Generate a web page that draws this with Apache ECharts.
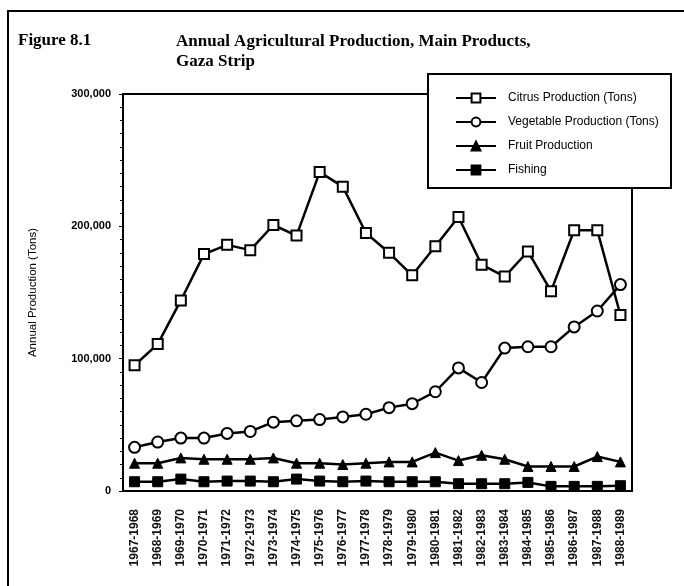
<!DOCTYPE html>
<html>
<head>
<meta charset="utf-8">
<script src="https://cdn.jsdelivr.net/npm/echarts@6/dist/echarts.min.js"></script>
<style>
  html, body { margin: 0; padding: 0; background: #fff; }
  #chart { width: 684px; height: 586px; }
</style>
</head>
<body>
<div id="chart"></div>
<script>
// years (crop seasons)
const seasons = ['1967-1968','1968-1969','1969-1970','1970-1971','1971-1972','1972-1973',
  '1973-1974','1974-1975','1975-1976','1976-1977','1977-1978','1978-1979','1979-1980',
  '1980-1981','1981-1982','1982-1983','1983-1984','1984-1985','1985-1986','1986-1987',
  '1987-1988','1988-1989'];
// values, tons
const citrus = [95000,111000,144000,179000,186000,182000,201000,193000,241000,230000,195000,
  180000,163000,185000,207000,171000,162000,181000,151000,197000,197000,133000];
const vegetable = [33000,37000,40000,40000,43500,45000,52000,53000,54000,56000,58000,
  63000,66000,75000,93000,82000,108000,109000,109000,124000,136000,156000];
const fruit = [21000,21000,25000,24000,24000,24000,25000,21000,21000,20000,21000,
  22000,22000,29000,23000,27000,24000,18500,18500,18500,26000,22000];
const fishing = [7000,7000,9000,7000,7500,7500,7000,9000,7500,7000,7500,
  7000,7000,7000,5500,5500,5500,6500,3500,3500,3500,4000];
const yTicks = [0, 100000, 200000, 300000];

const myChart = echarts.init(document.getElementById('chart'));
const sans = '"Liberation Sans", Arial, sans-serif';
const serif = '"Liberation Serif", "Times New Roman", serif';

const lineStyle = { color: '#000', width: 2.5 };
const option = {
  backgroundColor: '#fff',
  animation: false,
  textStyle: { fontFamily: sans },
  graphic: [
    // outer frame (left + top only are visible)
    { type: 'polyline', z: 1, shape: { points: [[8, 586], [8, 11], [684, 11]] },
      style: { stroke: '#000', lineWidth: 2, fill: null } },
    { type: 'text', left: 18, top: 32,
      style: { text: 'Figure 8.1', font: 'bold 17px ' + serif, fill: '#000' } },
    { type: 'text', left: 176, top: 32,
      style: { text: 'Annual Agricultural Production, Main Products,\nGaza Strip',
        font: 'bold 17px ' + serif, fill: '#000', lineHeight: 20 } },
    // legend box
    { type: 'rect', z: 5, shape: { x: 428, y: 74, width: 243, height: 114 },
      style: { fill: '#fff', stroke: '#000', lineWidth: 2 } }
  ],
  legend: {
    z: 10,
    orient: 'vertical',
    left: 450,
    top: 87,
    itemWidth: 40,
    itemHeight: 11,
    itemGap: 12,
    textStyle: { fontSize: 12, color: '#000', fontFamily: sans, padding: [0, 0, 0, 7] },
    data: ['Citrus Production (Tons)', 'Vegetable Production (Tons)', 'Fruit Production', 'Fishing']
  },
  grid: {
    left: 123, right: 52, top: 94, bottom: 95,
    show: true, borderColor: '#000', borderWidth: 2
  },
  xAxis: {
    type: 'category',
    data: seasons,
    boundaryGap: true,
    axisLine: { lineStyle: { color: '#000', width: 2 } },
    axisTick: { show: false },
    axisLabel: { rotate: 90, margin: 18, fontSize: 12, fontWeight: 'bold', color: '#111', interval: 0 }
  },
  yAxis: {
    type: 'value',
    min: yTicks[0],
    max: yTicks[yTicks.length - 1],
    interval: 100000,
    name: 'Annual Production (Tons)',
    nameLocation: 'middle',
    nameGap: 84,
    nameTextStyle: { fontSize: 11.5, color: '#000' },
    axisLine: { show: true, lineStyle: { color: '#000', width: 2 } },
    axisTick: { show: true, length: 4, lineStyle: { color: '#000' } },
    minorTick: { show: true, splitNumber: 10, length: 3, lineStyle: { color: '#000' } },
    splitLine: { show: false },
    axisLabel: {
      margin: 12, fontSize: 11, fontWeight: 'bold', color: '#000',
      formatter: v => v.toLocaleString('en-US')
    }
  },
  series: [
    {
      name: 'Citrus Production (Tons)', type: 'line', data: citrus,
      symbol: 'rect', symbolSize: 10, showAllSymbol: true,
      lineStyle: lineStyle,
      itemStyle: { color: '#fff', borderColor: '#000', borderWidth: 2 }
    },
    {
      name: 'Vegetable Production (Tons)', type: 'line', data: vegetable,
      symbol: 'circle', symbolSize: 11, showAllSymbol: true,
      lineStyle: lineStyle,
      itemStyle: { color: '#fff', borderColor: '#000', borderWidth: 2 }
    },
    {
      name: 'Fruit Production', type: 'line', data: fruit,
      symbol: 'triangle', symbolSize: 10, showAllSymbol: true,
      lineStyle: lineStyle,
      itemStyle: { color: '#000', borderColor: '#000', borderWidth: 1 }
    },
    {
      name: 'Fishing', type: 'line', data: fishing,
      symbol: 'rect', symbolSize: 10, showAllSymbol: true,
      lineStyle: lineStyle,
      itemStyle: { color: '#000', borderColor: '#000', borderWidth: 1 }
    }
  ]
};
myChart.setOption(option);
</script>
</body>
</html>
